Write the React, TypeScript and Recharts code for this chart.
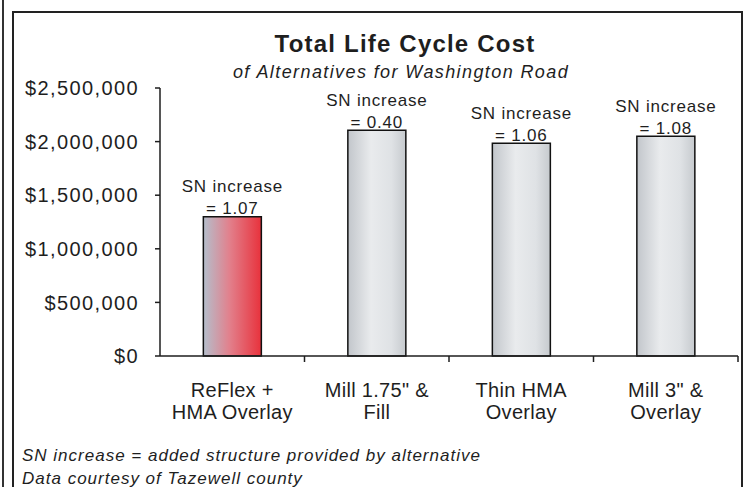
import { BarChart, Bar, XAxis, YAxis, Cell, LabelList } from "recharts";

const categories = ["ReFlex +\nHMA Overlay", "Mill 1.75\" &\nFill", "Thin HMA\nOverlay", "Mill 3\" &\nOverlay"];
const costs = [1300000, 2105000, 1985000, 2050000];
const snIncrease = ["1.07", "0.40", "1.06", "1.08"];
const yTicks = [0, 500000, 1000000, 1500000, 2000000, 2500000];
const barFills = ["url(#reflexFill)", "url(#grayFill)", "url(#grayFill)", "url(#grayFill)"];

const data = categories.map((name, i) => ({ name, cost: costs[i], sn: snIncrease[i] }));

const FONT = '"Liberation Sans", Arial, sans-serif';
const INK = "#1e1e1e";

const money = (v: number) => "$" + v.toLocaleString("en-US");

function CategoryTick(props: any) {
  const { x, y, payload, width, visibleTicksCount } = props;
  const half = width && visibleTicksCount ? width / visibleTicksCount / 2 : 72;
  const lines = String(payload.value).split("\n");
  return (
    <g>
      <line x1={x + half} x2={x + half} y1={y} y2={y + 6} stroke={INK} strokeWidth={1.5} />
      {lines.map((ln, i) => (
        <text
          key={i}
          x={x}
          y={y + 34 + i * 22}
          textAnchor="middle"
          dominantBaseline="central"
          fontFamily={FONT}
          fontSize={20}
          letterSpacing={0.3}
          fill={INK}
        >
          {ln}
        </text>
      ))}
    </g>
  );
}

function SnLabel(props: any) {
  const { x, y, width, index } = props;
  const cx = x + width / 2;
  return (
    <g fontFamily={FONT} fontSize={17} letterSpacing={0.8} fill={INK} textAnchor="middle">
      <text x={cx} y={y - 30} dominantBaseline="central">SN increase</text>
      <text x={cx} y={y - 8} dominantBaseline="central">= {snIncrease[index]}</text>
    </g>
  );
}

export default function App() {
  return (
    <div
      style={{
        position: "absolute",
        left: 0,
        top: 0,
        width: 747,
        height: 487,
        background: "#fff",
        overflow: "hidden",
        fontFamily: FONT,
        color: INK,
      }}
    >
      {/* frame lines */}
      <div style={{ position: "absolute", left: 2, top: 0, width: 2, height: 487, background: "#333" }} />
      <div
        style={{
          position: "absolute",
          left: 12,
          top: 11,
          width: 731,
          height: 490,
          border: "2px solid #222",
          boxSizing: "border-box",
        }}
      />

      <BarChart width={747} height={487} data={data} margin={{ top: 88, right: 9, bottom: 101, left: 0 }} barCategoryGap="30%">
        <defs>
          <linearGradient id="reflexFill" x1="0" y1="0" x2="1" y2="0">
            <stop offset="0%" stopColor="#b4bfcc" />
            <stop offset="45%" stopColor="#e2808c" />
            <stop offset="100%" stopColor="#e8323c" />
          </linearGradient>
          <linearGradient id="grayFill" x1="0" y1="0" x2="1" y2="0">
            <stop offset="0%" stopColor="#c2c6cb" />
            <stop offset="40%" stopColor="#e9ebed" />
            <stop offset="75%" stopColor="#dfe2e5" />
            <stop offset="100%" stopColor="#c6cace" />
          </linearGradient>
        </defs>
        <XAxis
          dataKey="name"
          height={30}
          interval={0}
          axisLine={{ stroke: INK, strokeWidth: 1.5 }}
          tickLine={false}
          tickSize={0}
          tickMargin={0}
          tick={<CategoryTick />}
        />
        <YAxis
          width={160}
          domain={[0, 2500000]}
          ticks={yTicks}
          tickFormatter={money}
          axisLine={{ stroke: INK, strokeWidth: 1.5 }}
          tickLine={{ stroke: INK, strokeWidth: 1.5 }}
          tickSize={5}
          tickMargin={16}
          tick={{ fontSize: 20, fill: INK, fontFamily: FONT, letterSpacing: 1.4 }}
        />
        <Bar dataKey="cost" stroke="#111" strokeWidth={1.5} isAnimationActive={false}>
          {data.map((d, i) => (
            <Cell key={d.name} fill={barFills[i]} />
          ))}
          <LabelList dataKey="sn" content={<SnLabel />} />
        </Bar>
      </BarChart>

      <div
        style={{
          position: "absolute",
          left: 405,
          top: 30,
          transform: "translateX(-50%)",
          whiteSpace: "nowrap",
          fontWeight: "bold",
          fontSize: 24,
          letterSpacing: 1.2,
          lineHeight: "28px",
        }}
      >
        Total Life Cycle Cost
      </div>
      <div
        style={{
          position: "absolute",
          left: 401,
          top: 61,
          transform: "translateX(-50%)",
          whiteSpace: "nowrap",
          fontStyle: "italic",
          fontSize: 18,
          letterSpacing: 1.4,
          lineHeight: "22px",
        }}
      >
        of Alternatives for Washington Road
      </div>
      <div
        style={{
          position: "absolute",
          left: 22,
          top: 444,
          whiteSpace: "nowrap",
          fontStyle: "italic",
          fontSize: 17,
          letterSpacing: 1,
          lineHeight: "23px",
        }}
      >
        <div>SN increase = added structure provided by alternative</div>
        <div>Data courtesy of Tazewell county</div>
      </div>
    </div>
  );
}
